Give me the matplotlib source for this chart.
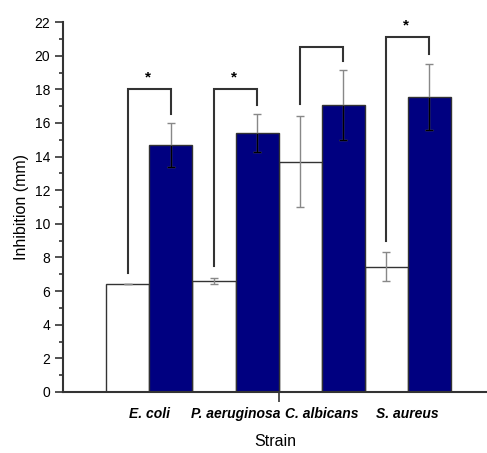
import matplotlib.pyplot as plt
import numpy as np

plt.rcParams['font.family'] = ['Liberation Sans', 'DejaVu Sans']

strains = ['E. coli', 'P. aeruginosa', 'C. albicans', 'S. aureus']
control = [6.4, 6.6, 13.7, 7.45]
control_err = [0.0, 0.17, 2.7, 0.85]
treated = [14.67, 15.4, 17.06, 17.56]
treated_err = [1.3, 1.12, 2.1, 1.97]
bracket_top = [18.0, 18.0, 20.5, 21.1]
significant = [True, True, False, True]

fig = plt.figure(figsize=(4.87, 4.53), dpi=100)
ax = fig.add_axes([0.130, 0.1347, 0.87, 0.8166])

x = np.arange(1, len(strains) + 1)
w = 0.5
treated = np.array(treated)
treated_err = np.array(treated_err)

ax.bar(x - w/2, control, w, color='white', edgecolor='#333333', linewidth=1, zorder=2)
ax.bar(x + w/2, treated, w, color='#000080', edgecolor='#333333', linewidth=1, zorder=2)

ax.errorbar(x - w/2, control, yerr=control_err, fmt='none', ecolor='#888888',
            elinewidth=1, capsize=3, capthick=1, zorder=3)
ax.errorbar(x + w/2, treated, yerr=treated_err, fmt='none', ecolor='#888888',
            elinewidth=1, capsize=3, capthick=1, zorder=3)
# inside the dark bars the error bar shows up black
ax.vlines(x + w/2, treated - treated_err, treated, color='black', lw=1, zorder=4)
ax.plot(x + w/2, treated - treated_err, ls='none', marker='_', ms=6, mew=1,
        color='black', zorder=4)

for i in range(len(x)):
    xl = x[i] - w/2
    xr = x[i] + w/2
    yl = control[i] + control_err[i] + 0.7
    yr = treated[i] + treated_err[i] + 0.55
    top = bracket_top[i]
    ax.plot([xl, xl, xr, xr], [yl, top, top, yr], color='#333333', lw=1.5,
            solid_joinstyle='miter', zorder=5)
    if significant[i]:
        ax.text(x[i] - 0.02, top + 0.3, '*', ha='center', va='bottom',
                fontsize=11, fontweight='bold')

ax.set_xlim(0, 4.92)
ax.set_ylim(0, 22)
ax.set_yticks(np.arange(0, 23, 2))
ax.set_yticks(np.arange(1, 22, 2), minor=True)
ax.set_xticks(x)
ax.set_xticklabels(strains, fontsize=10, fontweight='bold', fontstyle='italic')
ax.set_xticks([2.5], minor=True)
ax.tick_params(axis='x', which='major', length=0, pad=11)
ax.tick_params(axis='x', which='minor', length=7, width=1.2, direction='out', color='#333333')
ax.tick_params(axis='y', which='major', length=6, width=1.2, labelsize=10, color='#333333')
ax.tick_params(axis='y', which='minor', length=3, width=1.2, color='#333333')

for s in ['top', 'right']:
    ax.spines[s].set_visible(False)
for s in ['left', 'bottom']:
    ax.spines[s].set_linewidth(1.5)
    ax.spines[s].set_color('#333333')

ax.set_ylabel('Inhibition (mm)', fontsize=11.5, labelpad=4)
ax.set_xlabel('Strain', fontsize=11.5, labelpad=9)

fig.savefig('out.png', dpi=100, facecolor='white')
